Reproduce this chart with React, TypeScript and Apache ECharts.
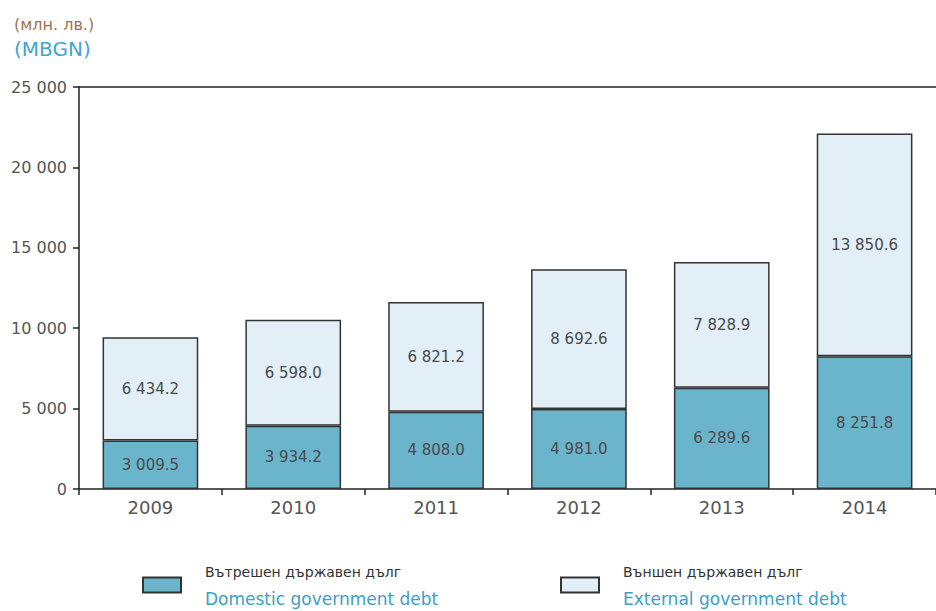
import React, { useEffect, useRef } from "react";
import * as echarts from "echarts";

const years = ["2009", "2010", "2011", "2012", "2013", "2014"];
const domestic = [3009.5, 3934.2, 4808.0, 4981.0, 6289.6, 8251.8];
const external = [6434.2, 6598.0, 6821.2, 8692.6, 7828.9, 13850.6];
const seriesNamesBg = ["Вътрешен държавен дълг", "Външен държавен дълг"];
const seriesNamesEn = ["Domestic government debt", "External government debt"];
const unitBg = "(млн. лв.)";
const unitEn = "(MBGN)";

const FONT = "DejaVu Sans";

function spaceThousands(s: string): string {
  const [intPart, dec] = s.split(".");
  const withSp = intPart.replace(/\B(?=(\d{3})+(?!\d))/g, " ");
  return dec !== undefined ? withSp + "." + dec : withSp;
}

export default function App() {
  const ref = useRef<HTMLDivElement>(null);
  useEffect(() => {
    if (!ref.current) return;
    const chart = echarts.init(ref.current, null, { renderer: "svg" });
    const labelCfg = {
      show: true,
      position: "inside",
      color: "#4a4a4a",
      fontSize: 15,
      fontFamily: FONT,
      formatter: (p: any) => spaceThousands(Number(p.value).toFixed(1)),
    };
    const legendBase = (i: number, left: number) => ({
      data: [seriesNamesBg[i]],
      left,
      top: 560,
      orient: "horizontal",
      itemWidth: 38,
      itemHeight: 15,
      icon: "rect",
      selectedMode: false,
      formatter: (name: string) => `{a|${name}}\n{b|${seriesNamesEn[seriesNamesBg.indexOf(name)]}}`,
      textStyle: {
        padding: [0, 0, 0, 19],
        rich: {
          a: { fontSize: 14, color: "#333", fontFamily: FONT, lineHeight: 27 },
          b: { fontSize: 17, color: "#3a9fc6", fontFamily: FONT, lineHeight: 26 },
        },
      },
    });
    chart.setOption({
      animation: false,
      grid: { left: 79, top: 87, right: 0, bottom: 122, containLabel: false },
      title: [
        {
          text: unitBg,
          left: 9,
          top: 11,
          textStyle: { fontSize: 16, fontWeight: "normal", color: "#a0724e", fontFamily: FONT },
        },
        {
          text: unitEn,
          left: 9,
          top: 34,
          textStyle: { fontSize: 20, fontWeight: "normal", color: "#3ea6cf", fontFamily: FONT },
        },
      ],
      legend: [legendBase(0, 137), legendBase(1, 555)],
      xAxis: [
        {
          type: "category",
          data: years,
          axisLine: { show: true, lineStyle: { color: "#222", width: 1.5 } },
          axisTick: { show: true, length: 6, lineStyle: { color: "#222", width: 1.5 } },
          axisLabel: { color: "#555", fontSize: 18, fontFamily: FONT, margin: 9 },
        },
        {
          type: "category",
          data: years,
          position: "top",
          axisLine: { show: true, lineStyle: { color: "#222", width: 1.5 } },
          axisTick: { show: false },
          axisLabel: { show: false },
        },
      ],
      yAxis: {
        type: "value",
        min: 0,
        max: 25000,
        interval: 5000,
        axisLine: { show: true, lineStyle: { color: "#222", width: 1.5 } },
        axisTick: { show: true, length: 6, lineStyle: { color: "#222", width: 1.5 } },
        splitLine: { show: false },
        axisLabel: {
          color: "#555",
          fontSize: 16,
          fontFamily: FONT,
          margin: 12,
          formatter: (v: number) => spaceThousands(String(v)),
        },
      },
      series: [
        {
          name: seriesNamesBg[0],
          type: "bar",
          stack: "debt",
          data: domestic,
          barWidth: "67%",
          itemStyle: { color: "#6ab4cc", borderColor: "#333", borderWidth: 1.5 },
          label: labelCfg,
        },
        {
          name: seriesNamesBg[1],
          type: "bar",
          stack: "debt",
          data: external,
          barWidth: "67%",
          itemStyle: { color: "#e2eff6", borderColor: "#333", borderWidth: 1.5 },
          label: labelCfg,
        },
      ],
    });
    return () => chart.dispose();
  }, []);
  return (
    <div
      ref={ref}
      style={{ position: "absolute", left: 0, top: 0, width: 936, height: 611, background: "#fff" }}
    />
  );
}
